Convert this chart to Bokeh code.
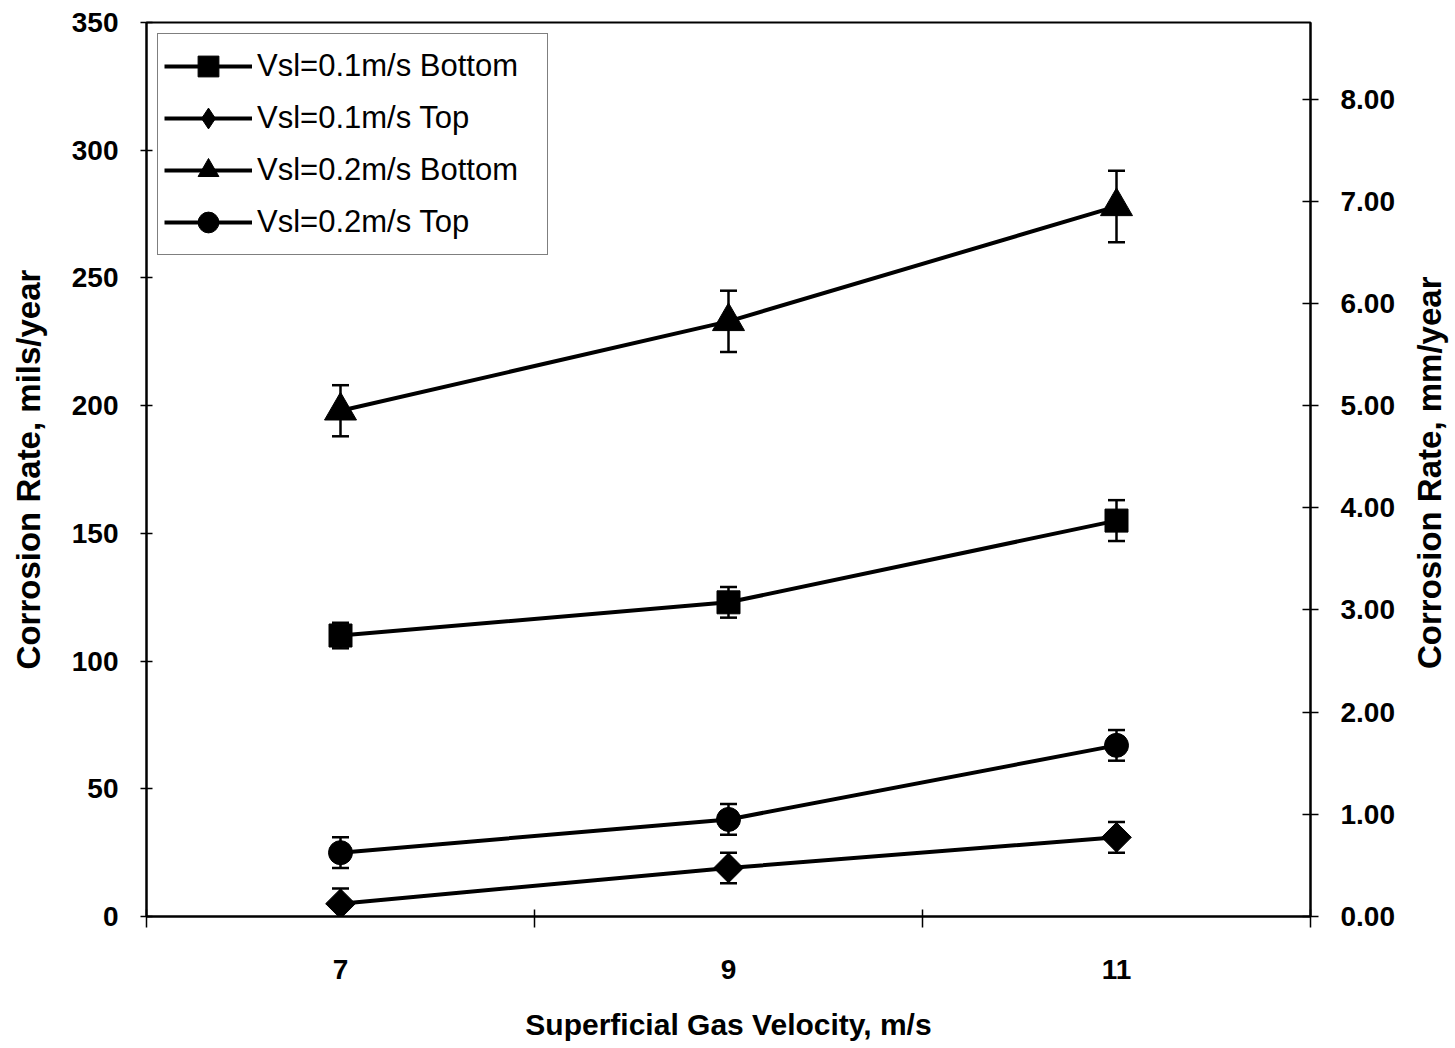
import math
from bokeh.plotting import figure
from bokeh.models import (ColumnDataSource, Whisker, TeeHead, LinearAxis, Range1d,
                          FixedTicker, PrintfTickFormatter, Legend, LegendItem)
from bokeh.embed import file_html
from bokeh.resources import INLINE

# ---- data ----
gas_velocity = [7, 9, 11]
x_minor_ticks = [6, 8, 10, 12]
left_ticks = [0, 50, 100, 150, 200, 250, 300, 350]
right_ticks = [0, 1, 2, 3, 4, 5, 6, 7, 8]

vsl01_bottom = [110, 123, 155]
vsl01_bottom_err = [5, 6, 8]
vsl01_top = [5, 19, 31]
vsl01_top_err = [6, 6, 6]
vsl02_bottom = [198, 233, 278]
vsl02_bottom_err = [10, 12, 14]
vsl02_top = [25, 38, 67]
vsl02_top_err = [6, 6, 6]

labels = ["Vsl=0.1m/s Bottom", "Vsl=0.1m/s Top", "Vsl=0.2m/s Bottom", "Vsl=0.2m/s Top"]

FONT = "Liberation Sans"

p = figure(frame_width=1164, frame_height=894,
           x_range=Range1d(6, 12), y_range=Range1d(0, 350),
           output_backend="svg", toolbar_location=None,
           min_border_left=146, min_border_right=135,
           min_border_top=22, min_border_bottom=124)
p.extra_y_ranges = {"mm": Range1d(0, 8.75)}

p.xgrid.visible = False
p.ygrid.visible = False
p.outline_line_color = "black"
p.outline_line_width = 2
p.background_fill_color = "white"
p.border_fill_color = "white"

# x axis
xa = p.xaxis[0]
xa.ticker = FixedTicker(ticks=gas_velocity, minor_ticks=x_minor_ticks)
xa.major_tick_line_color = None
xa.major_tick_out = 0
xa.major_tick_in = 0
xa.minor_tick_line_color = "black"
xa.minor_tick_line_width = 1.5
xa.minor_tick_in = 7
xa.minor_tick_out = 11
xa.axis_line_width = 2
xa.axis_line_color = "black"
xa.major_label_standoff = 32
xa.major_label_text_font = FONT
xa.major_label_text_font_style = "bold"
xa.major_label_text_font_size = "28px"
xa.major_label_text_color = "black"
xa.axis_label = "Superficial Gas Velocity, m/s"
xa.axis_label_text_font = FONT
xa.axis_label_text_font_style = "bold"
xa.axis_label_text_font_size = "30px"
xa.axis_label_text_color = "black"
xa.axis_label_standoff = 26

# left axis
ya = p.yaxis[0]
ya.ticker = FixedTicker(ticks=left_ticks)
ya.minor_tick_line_color = None
ya.major_tick_in = 6
ya.major_tick_out = 6
ya.major_tick_line_width = 1.5
ya.axis_line_width = 2
ya.major_label_standoff = 22
ya.major_label_text_font = FONT
ya.major_label_text_font_style = "bold"
ya.major_label_text_font_size = "28px"
ya.major_label_text_color = "black"
ya.axis_label = "Corrosion Rate, mils/year"
ya.axis_label_text_font = FONT
ya.axis_label_text_font_style = "bold"
ya.axis_label_text_font_size = "33px"
ya.axis_label_text_color = "black"
ya.axis_label_standoff = 22

# right axis
ra = LinearAxis(y_range_name="mm", ticker=FixedTicker(ticks=right_ticks),
                formatter=PrintfTickFormatter(format="%.2f"))
ra.minor_tick_line_color = None
ra.major_tick_in = 8
ra.major_tick_out = 8
ra.major_tick_line_width = 1.5
ra.axis_line_width = 2
ra.major_label_standoff = 22
ra.major_label_text_font = FONT
ra.major_label_text_font_style = "bold"
ra.major_label_text_font_size = "28px"
ra.major_label_text_color = "black"
# reads bottom-to-top like the left label; non-breaking spaces lift it to the centre
ra.axis_label = "\u00a0" * 27 + "Corrosion Rate, mm/year"
ra.axis_label_text_font = FONT
ra.axis_label_text_font_style = "bold"
ra.axis_label_text_font_size = "33px"
ra.axis_label_text_color = "black"
ra.axis_label_standoff = 32
ra.axis_label_align = "start"
try:
    ra.axis_label_orientation = math.pi / 2
except Exception:
    pass
p.add_layout(ra, "right")

series = [
    (vsl01_bottom, vsl01_bottom_err, "square", 23),
    (vsl01_top, vsl01_top_err, "diamond", 29),
    (vsl02_bottom, vsl02_bottom_err, "triangle", 32),
    (vsl02_top, vsl02_top_err, "circle", 24),
]

items = []
for (vals, errs, marker, size), lab in zip(series, labels):
    src = ColumnDataSource(dict(x=gas_velocity, y=vals,
                                upper=[v + e for v, e in zip(vals, errs)],
                                lower=[v - e for v, e in zip(vals, errs)]))
    wh = Whisker(source=src, base="x", upper="upper", lower="lower",
                 line_width=2.5, line_color="black", level="underlay",
                 upper_head=TeeHead(size=17, line_width=2.5, line_color="black"),
                 lower_head=TeeHead(size=17, line_width=2.5, line_color="black"))
    p.add_layout(wh)
    lr = p.line("x", "y", source=src, line_width=4, line_color="black")
    mr = p.scatter("x", "y", source=src, marker=marker, size=size,
                   fill_color="black", line_color="black")
    if marker == "diamond":
        p.scatter("x", "y", source=src, marker="square", size=21, angle=math.pi / 4,
                  fill_color="black", line_color="black")
    items.append(LegendItem(label=lab, renderers=[lr, mr]))

legend = Legend(items=items, location="top_left", margin=11, padding=6,
                spacing=0, glyph_height=52, label_height=52, glyph_width=88,
                label_width=284, label_standoff=5,
                label_text_font=FONT, label_text_font_size="31px",
                label_text_color="black",
                border_line_color="black", border_line_width=1.5,
                background_fill_color="white", background_fill_alpha=1)
p.add_layout(legend)

open("out.html", "w").write(file_html(p, INLINE))
